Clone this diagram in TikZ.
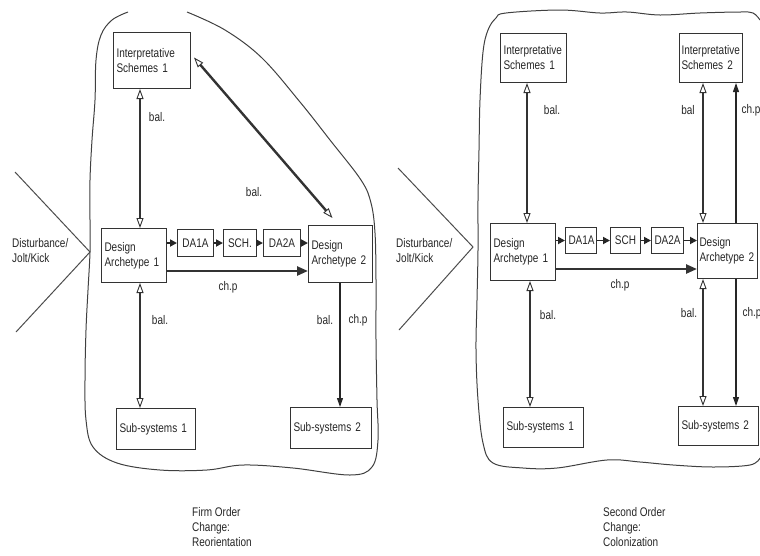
\documentclass[tikz,border=0pt]{standalone}
\usepackage{fontspec}
\setmainfont{Liberation Sans}[FakeStretch=0.8]
\usetikzlibrary{arrows.meta,calc}
\tikzset{
  txtsty/.style={font=\fontsize{12.5}{15}\selectfont, text=black!85},
  mybox/.style={txtsty, draw=black!80, line width=1pt, anchor=north west, inner xsep=3pt, inner ysep=2pt, align=left},
  mysbox/.style={mybox, align=center},
  mylab/.style={txtsty, inner sep=0pt},
  mycap/.style={txtsty, inner sep=0pt, anchor=north west, align=left},
  openhead/.tip={Triangle[open,line width=0.9pt,length=10pt,width=7pt]},
  balarr/.style={draw=black!80, line width=2.4pt, openhead-openhead},
  chparr/.style={draw=black!85, line width=1.1pt, -{Triangle[length=9pt,width=6pt]}},
  chainarr/.style={draw=black!85, line width=1.8pt, -{Triangle[length=7pt,width=7pt]}},
  thkarr/.style={draw=black!80, line width=2.4pt, -{Triangle[length=11pt,width=9pt]}},
  cloudline/.style={draw=black!75, line width=1pt},
  kickline/.style={draw=black!70, line width=1pt}
}
\begin{document}
\begin{tikzpicture}[x=1pt,y=-1pt]
\useasboundingbox (0,0) rectangle (760,555);

% ---------- clouds ----------
\draw[cloudline] plot[smooth, tension=0.6] coordinates {(128,12) (112,20) (101,35) (96,60) (95,100) (92,140) (90,180) (90,220) (90,252) (88,290) (86,330) (85,380) (86,420) (93,447) (117,463) (160,470) (207,470) (243,465) (293,468) (350,475) (372,467) (378,440) (377,400) (376,340) (376,280) (375,233) (371,203) (361,180) (330,140) (300,102) (262,58) (225,30) (187,12)};
\draw[cloudline] plot[smooth, tension=0.6] coordinates {(760,458) (750,465) (713,467) (673,465) (640,462) (607,460) (557,468) (523,468) (493,463) (483,443) (478,400) (476,350) (477,300) (478,250) (478,200) (479,150) (480,100) (483,52) (488,30) (496,18) (506,13) (560,10) (600,13) (627,12) (660,15) (700,13) (740,12) (753,13) (760,20)};

% ---------- disturbance ----------
\draw[kickline] (15,172) -- (90,252) -- (16,332);
\draw[kickline] (398,168) -- (473,247) -- (399,330);
\node[mycap] (distL) at (12,238) {Disturbance/\\Jolt/Kick};
\node[mycap] (distR) at (396,238) {Disturbance/\\Jolt/Kick};

% ---------- left panel ----------
\node[mybox, minimum width=77pt, minimum height=56pt, text width=71pt] (is1L) at (113,32) {Interpretative\\Schemes 1};
\node[mybox, minimum width=65pt, minimum height=54pt, text width=59pt] (da1L) at (101,228) {Design\\Archetype~1};
\node[mysbox, minimum width=36pt, minimum height=27pt, text width=30pt] (da1aL) at (177,229) {DA1A};
\node[mysbox, minimum width=33pt, minimum height=27pt, text width=27pt] (schL) at (223,229) {SCH.};
\node[mysbox, minimum width=37pt, minimum height=27pt, text width=31pt] (da2aL) at (263,229) {DA2A};
\node[mybox, minimum width=64pt, minimum height=57pt, text width=58pt] (da2L) at (308,225) {Design\\Archetype~2};
\node[mybox, minimum width=79pt, minimum height=41pt, text width=73pt] (sub1L) at (116,408) {Sub-systems 1};
\node[mybox, minimum width=81pt, minimum height=41pt, text width=75pt] (sub2L) at (290,407) {Sub-systems 2};

\coordinate (xa) at (140,0);
\coordinate (xb) at (340,0);
\coordinate (ychL) at (0,271);

\draw[balarr] (xa |- is1L.south) -- (xa |- da1L.north);
\draw[balarr] (xa |- da1L.south) -- (xa |- sub1L.north);
\draw[balarr] ($(is1L.east)+(3,-3)$) -- ($(da2L.north)+(-8,-7)$);
\draw[chainarr] (da1L.east |- da1aL.west) -- (da1aL.west);
\draw[chainarr] (da1aL.east) -- (schL.west);
\draw[chainarr] (schL.east) -- (da2aL.west);
\draw[chainarr] (da2aL.east) -- (da2L.west |- da2aL.east);
\draw[thkarr] (da1L.east |- ychL) -- (da2L.west |- ychL);
\draw[chparr] (xb |- da2L.south) -- (xb |- sub2L.north);

\node[mylab] (lb1) at (157,117) {bal.};
\node[mylab] (lb2) at (254,192) {bal.};
\node[mylab] (lc1) at (228,287) {ch.p};
\node[mylab] (lb3) at (160,320) {bal.};
\node[mylab] (lb4) at (325,320) {bal.};
\node[mylab] (lc2) at (358,320) {ch.p};
\node[mycap] (capL) at (192,507) {Firm Order\\Change:\\Reorientation};

% ---------- right panel ----------
\node[mybox, minimum width=66pt, minimum height=49pt, text width=60pt] (is1R) at (500,33) {Interpretative\\Schemes 1};
\node[mybox, minimum width=63pt, minimum height=49pt, inner xsep=2pt, text width=59pt] (is2R) at (679,33) {Interpretative\\Schemes 2};
\node[mybox, minimum width=65pt, minimum height=57pt, text width=59pt] (da1R) at (490,223) {Design\\Archetype~1};
\node[mysbox, minimum width=31pt, minimum height=26pt, text width=25pt] (da1aR) at (565,227) {DA1A};
\node[mysbox, minimum width=30pt, minimum height=26pt, text width=24pt] (schR) at (610,227) {SCH};
\node[mysbox, minimum width=32pt, minimum height=26pt, text width=26pt] (da2aR) at (651,227) {DA2A};
\node[mybox, minimum width=60pt, minimum height=55pt, inner xsep=2pt, text width=56pt] (da2R) at (697,223) {Design\\Archetype~2};
\node[mybox, minimum width=80pt, minimum height=40pt, text width=74pt] (sub1R) at (503,407) {Sub-systems 1};
\node[mybox, minimum width=80pt, minimum height=39pt, text width=74pt] (sub2R) at (678,406) {Sub-systems 2};

\coordinate (xc) at (527,0);
\coordinate (xd) at (530,0);
\coordinate (xe) at (703,0);
\coordinate (xf) at (736,0);
\coordinate (ychR) at (0,269);

\draw[balarr] (xc |- is1R.south) -- (xc |- da1R.north);
\draw[balarr] (xd |- da1R.south) -- (xd |- sub1R.north);
\draw[balarr] (xe |- is2R.south) -- (xe |- da2R.north);
\draw[chparr] (xf |- da2R.north) -- (xf |- is2R.south);
\draw[balarr] (xe |- da2R.south) -- (xe |- sub2R.north);
\draw[chparr] (xf |- da2R.south) -- (xf |- sub2R.north);
\draw[chainarr] (da1R.east |- da1aR.west) -- (da1aR.west);
\draw[chainarr] (da1aR.east) -- (schR.west);
\draw[chainarr] (schR.east) -- (da2aR.west);
\draw[chainarr] (da2aR.east) -- (da2R.west |- da2aR.east);
\draw[thkarr] (da1R.east |- ychR) -- (da2R.west |- ychR);

\node[mylab] (rb1) at (552,110) {bal.};
\node[mylab] (rb2) at (688,110) {bal};
\node[mylab] (rc1) at (751,110) {ch.p};
\node[mylab] (rc2) at (620,285) {ch.p};
\node[mylab] (rb3) at (548,315) {bal.};
\node[mylab] (rb4) at (689,313) {bal.};
\node[mylab] (rc3) at (752,313) {ch.p};
\node[mycap] (capR) at (603,507) {Second Order\\Change:\\Colonization};
\end{tikzpicture}
\end{document}
